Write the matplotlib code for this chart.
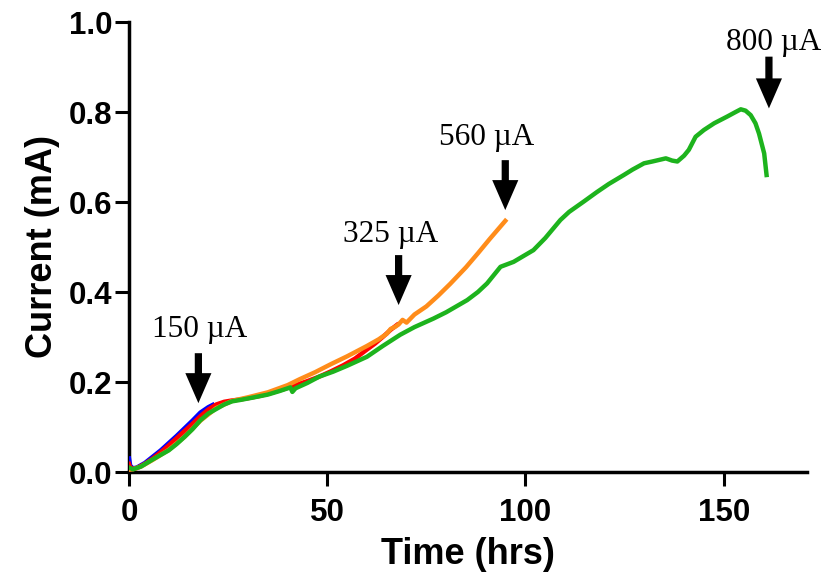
import matplotlib
matplotlib.use("Agg")
import matplotlib.pyplot as plt

# ---- data ----
blue_t = [0, 0.3, 1, 2, 4, 6, 8, 10, 12, 14, 16, 18, 20, 21.1]
blue_i = [0.030, 0.014, 0.008, 0.010, 0.020, 0.034, 0.048, 0.064, 0.080, 0.097, 0.114, 0.132, 0.144, 0.149]

red_t = [0, 0.3, 1, 2, 4, 6, 8, 10, 12, 14, 16, 18, 20, 22, 24, 26, 28, 30, 33, 36, 39, 42,
         45, 48, 51, 54, 57, 60, 62, 64, 66, 67.6]
red_i = [0.018, 0.010, 0.007, 0.009, 0.018, 0.030, 0.044, 0.059, 0.075, 0.091, 0.107, 0.124, 0.139,
         0.150, 0.156, 0.159, 0.161, 0.164, 0.169, 0.176, 0.184, 0.193, 0.202, 0.212, 0.224, 0.237,
         0.252, 0.272, 0.285, 0.300, 0.316, 0.327]

orange_t = [0, 1, 3, 6, 10, 14, 18, 22, 26, 30, 35, 40, 43, 47, 51, 55, 60, 63, 65, 66, 67, 68,
            69, 70, 72, 75, 78, 81, 85, 88, 91, 94.9]
orange_i = [0.005, 0.006, 0.012, 0.027, 0.049, 0.078, 0.114, 0.142, 0.158, 0.166, 0.177, 0.193,
            0.206, 0.222, 0.240, 0.257, 0.280, 0.295, 0.307, 0.318, 0.322, 0.328, 0.338, 0.332,
            0.350, 0.368, 0.392, 0.418, 0.455, 0.486, 0.518, 0.558]

green_t = [0, 1, 3, 6, 8, 10, 12, 14, 16, 18, 20, 22, 24, 26, 28, 31, 35, 38, 40.7, 41.2, 42, 45,
           48, 51.5, 55, 60, 64, 68.4, 72, 76.8, 80, 85.3, 88, 90.3, 93.7, 97, 102, 105, 108.8,
           111, 114.7, 118, 121, 124.8, 127, 129.9, 132, 135.4, 137, 138.3, 140, 141.2, 142.9,
           145, 147.6, 150.9, 153, 154.3, 155.5, 156.8, 158, 158.9, 160.2, 160.8]
green_i = [0.010, 0.006, 0.012, 0.028, 0.038, 0.048, 0.062, 0.078, 0.095, 0.115, 0.130, 0.140,
           0.150, 0.157, 0.160, 0.165, 0.172, 0.180, 0.188, 0.178, 0.186, 0.198, 0.212, 0.223,
           0.236, 0.256, 0.280, 0.305, 0.322, 0.341, 0.355, 0.382, 0.400, 0.419, 0.456, 0.467,
           0.493, 0.520, 0.560, 0.578, 0.601, 0.622, 0.640, 0.660, 0.672, 0.686, 0.690, 0.697,
           0.692, 0.690, 0.703, 0.716, 0.745, 0.760, 0.775, 0.790, 0.800, 0.806, 0.803, 0.793,
           0.775, 0.752, 0.708, 0.660]

arrow_x = [17.5, 68.0, 94.9, 161.4]
arrow_top = [0.264, 0.482, 0.693, 0.923]
arrow_tip = [0.153, 0.371, 0.582, 0.808]
label_text = ['150 µA', '325 µA', '560 µA', '800 µA']
label_x = [17.7, 65.9, 90.3, 162.7]
label_y = [0.301, 0.512, 0.727, 0.938]

x_ticks = [0, 50, 100, 150]
y_ticks = [0.0, 0.2, 0.4, 0.6, 0.8, 1.0]

# ---- figure ----
fig = plt.figure(figsize=(8.26, 5.85), dpi=100)
ax = fig.add_axes([129/826, 1-472/585, (807-129)/826, (472-22)/585])

lw = 3.2
ax.plot(blue_t, blue_i, color='#0000FF', lw=lw, solid_joinstyle='round', zorder=3)
ax.plot(red_t, red_i, color='#FF0000', lw=lw, solid_joinstyle='round', zorder=4)
ax.plot(orange_t, orange_i, color='#FF8C1A', lw=lw, solid_joinstyle='round', zorder=5)
ax.plot(green_t, green_i, color='#1DB31D', lw=lw, solid_joinstyle='round', zorder=6)

for xa, yt, yb in zip(arrow_x, arrow_top, arrow_tip):
    ax.annotate('', xy=(xa, yb), xytext=(xa, yt),
                arrowprops=dict(arrowstyle='simple,head_length=0.54,head_width=0.47,tail_width=0.13',
                                mutation_scale=40, shrinkA=0, shrinkB=0,
                                color='black', lw=0), annotation_clip=False)
for t, xl, yl in zip(label_text, label_x, label_y):
    ax.text(xl, yl, t, ha='center', va='baseline', fontsize=22.5,
            family='Liberation Serif', color='black', clip_on=False)

ax.set_xlim(0, 171)
ax.set_ylim(0, 1.0)
ax.set_xticks(x_ticks)
ax.set_yticks(y_ticks)
ax.set_yticklabels([f'{v:.1f}' for v in y_ticks])

for s in ['top', 'right']:
    ax.spines[s].set_visible(False)
for s in ['left', 'bottom']:
    ax.spines[s].set_linewidth(2.5)
ax.tick_params(axis='both', width=2.2, length=10, direction='out')
ax.tick_params(axis='x', pad=9)
ax.tick_params(axis='y', pad=2)
for lab in ax.get_xticklabels() + ax.get_yticklabels():
    lab.set_family('Liberation Sans')
    lab.set_fontweight('bold')
    lab.set_fontsize(22.5)

ax.set_xlabel('Time (hrs)', family='Liberation Sans', fontweight='bold', fontsize=26, labelpad=6)
ax.set_ylabel('Current (mA)', family='Liberation Sans', fontweight='bold', fontsize=26, labelpad=6)

fig.savefig('out.png', dpi=100)
